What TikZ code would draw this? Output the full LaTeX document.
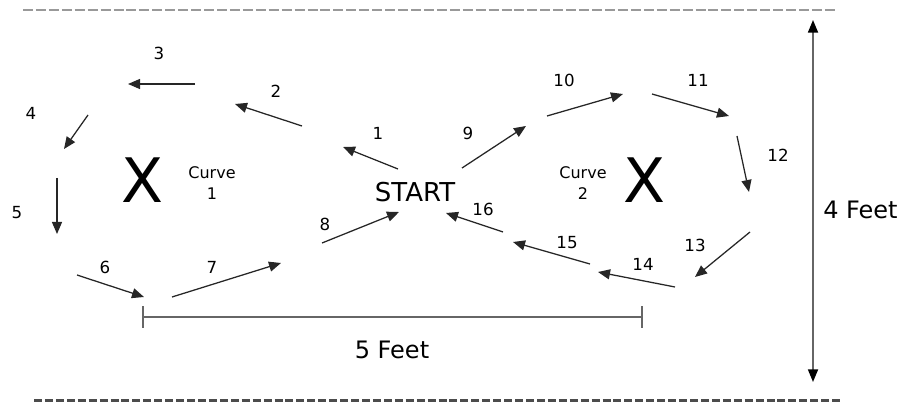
\documentclass[tikz,border=0pt]{standalone}
\usepackage{fontspec}
\setmainfont{DejaVu Sans}
\usetikzlibrary{arrows.meta}
\begin{document}
\begin{tikzpicture}[x=0.75pt,y=-0.75pt,
  mv/.style={draw=black!85,line width=0.95pt,-{Triangle[length=9pt,width=7.5pt]}},
  num/.style={font=\fontsize{12.5}{15}\selectfont,inner sep=0pt},
  curvelbl/.style={font=\fontsize{12}{15.5}\selectfont,align=center,inner sep=0pt},
  bigx/.style={font=\fontsize{46}{46}\selectfont,inner sep=0pt},
  feet/.style={font=\fontsize{18}{20}\selectfont,inner sep=0pt},
  topdash/.style={draw=black!40,line width=1.2pt,dash pattern=on 7.5pt off 2.2pt},
  botdash/.style={draw=black!70,line width=3pt,dash pattern=on 6pt off 2.2pt},
  dim/.style={draw=black!60,line width=1.3pt},
  dimarrows/.style={{Triangle[length=9.5pt,width=7.5pt,color=black]}-{Triangle[length=9.5pt,width=7.5pt,color=black]}}]
\useasboundingbox (0,0) rectangle (906,402);

% boundary lines
\coordinate (tl) at (23,10);  \coordinate (tr) at (836,10);
\coordinate (bl) at (34,401); \coordinate (br) at (843,401);
\draw[topdash] (tl) -- (tr);
\draw[botdash] (bl) -- (br);

% centre texts
\node[font=\fontsize{19.5}{20}\selectfont,inner sep=0pt] (start) at (415,192) {START};
\node[bigx] (x1) at (143,180) {X};
\node[bigx] (x2) at (644,180) {X};
\node[curvelbl] (c1) at (212,183) {Curve\\1};
\node[curvelbl] (c2) at (583,183) {Curve\\2};

% arrow end points (tail t, head h)
\coordinate (t1) at (398,169); \coordinate (h1) at (343,147);
\coordinate (t2) at (302,126); \coordinate (h2) at (235,104);
\coordinate (t3) at (195,84);  \coordinate (h3) at (128,84);
\coordinate (t4) at (88,115);  \coordinate (h4) at (64,149);
\coordinate (t5) at (57,178);  \coordinate (h5) at (57,234);
\coordinate (t6) at (77,275);  \coordinate (h6) at (144,297);
\coordinate (t7) at (172,297); \coordinate (h7) at (281,263);
\coordinate (t8) at (322,243); \coordinate (h8) at (399,212);
\coordinate (t9) at (462,168); \coordinate (h9) at (526,126);
\coordinate (t10) at (547,116); \coordinate (h10) at (623,94);
\coordinate (t11) at (652,94);  \coordinate (h11) at (729,116);
\coordinate (t12) at (737,136); \coordinate (h12) at (749,192);
\coordinate (t13) at (750,232); \coordinate (h13) at (695,277);
\coordinate (t14) at (675,287); \coordinate (h14) at (598,272);
\coordinate (t15) at (590,264); \coordinate (h15) at (513,242);
\coordinate (t16) at (503,232); \coordinate (h16) at (446,213);

\foreach \i in {1,...,16} { \draw[mv] (t\i) -- (h\i); }

% step numbers
\node[num] (n1) at (378,133) {1};
\node[num] (n2) at (276,91) {2};
\node[num] (n3) at (159,53) {3};
\node[num] (n4) at (31,113) {4};
\node[num] (n5) at (17,213) {5};
\node[num] (n6) at (105,267) {6};
\node[num] (n7) at (212,267) {7};
\node[num] (n8) at (325,224) {8};
\node[num] (n9) at (468,133) {9};
\node[num] (n10) at (564,80) {10};
\node[num] (n11) at (698,80) {11};
\node[num] (n12) at (778,155) {12};
\node[num] (n13) at (695,245) {13};
\node[num] (n14) at (643,264) {14};
\node[num] (n15) at (567,243) {15};
\node[num] (n16) at (483,209) {16};

% dimensions
\coordinate (d5a) at (142,317); \coordinate (d5b) at (643,317);
\draw[dim,{Bar[width=16pt]}-{Bar[width=16pt]}] (d5a) -- (d5b);
\node[feet] (f5) at (392,350) {5 Feet};

\coordinate (d4a) at (813,20); \coordinate (d4b) at (813,382);
\draw[dim,dimarrows] (d4a) -- (d4b);
\node[feet,anchor=west] (f4) at (823,210) {4 Feet};
\end{tikzpicture}
\end{document}
